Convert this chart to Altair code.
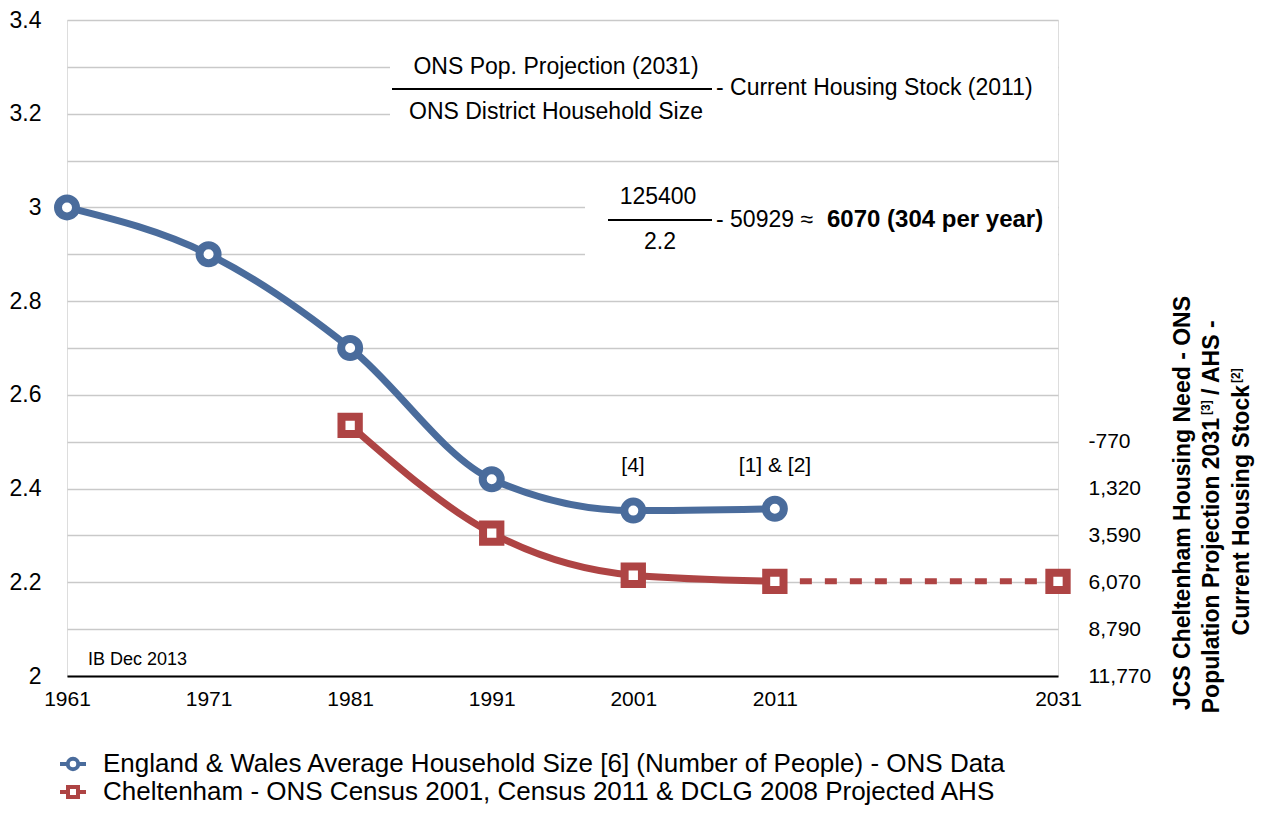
import altair as alt
import pandas as pd

# ---------------- data ----------------
years_ew = [1961, 1971, 1981, 1991, 2001, 2011]
ahs_ew = [3.0, 2.9, 2.7, 2.42, 2.353, 2.357]

years_ch = [1981, 1991, 2001, 2011, 2031]
ahs_ch = [2.535, 2.305, 2.215, 2.202, 2.202]

x_ticks = [1961, 1971, 1981, 1991, 2001, 2011, 2031]
y_grid = [2.0, 2.1, 2.2, 2.3, 2.4, 2.5, 2.6, 2.7, 2.8, 2.9, 3.0, 3.1, 3.2, 3.3, 3.4]
right_vals = [2.5, 2.4, 2.3, 2.2, 2.1, 2.0]
right_labels = ["-770", "1,320", "3,590", "6,070", "8,790", "11,770"]

series_names = [
    "England & Wales Average Household Size [6] (Number of People) - ONS Data",
    "Cheltenham - ONS Census 2001, Census 2011 & DCLG 2008 Projected AHS",
]

formula_num = "ONS Pop. Projection (2031)"
formula_den = "ONS District Household Size"
formula_rest = "- Current Housing Stock (2011)"
calc_num = "125400"
calc_den = "2.2"
calc_rest = "- 50929 ≈"
calc_bold = "6070 (304 per year)"
note_2001 = "[4]"
note_2011 = "[1] & [2]"
credit = "IB Dec 2013"
rtitle_1 = "JCS Cheltenham Housing Need - ONS"
rtitle_2a = "Population Projection 2031"
rtitle_2b = "/ AHS -"
rtitle_3 = "Current Housing Stock"
sup_3 = "[3]"
sup_2 = "[2]"

# ---------------- style ----------------
FONT = "Liberation Sans"
BLUE = "#4A6C9C"
RED = "#AE4444"
GRID = "#c9c9c9"
W, H = 991, 656

one = pd.DataFrame({"d": [0]})

X = alt.X(
    "year:Q",
    scale=alt.Scale(domain=[1961, 2031], nice=False, zero=False),
    axis=alt.Axis(values=x_ticks, format="d", title=None, ticks=False,
                  labelPadding=12, domainColor="black", domainWidth=2,
                  grid=False, labelFontSize=21, labelColor="black",
                  labelFont=FONT, labelFlush=False),
)
Y_SCALE = alt.Scale(domain=[2.0, 3.4], nice=False, zero=False)

left_axis = alt.Axis(
    orient="left", values=y_grid, format=".1~f",
    labelExpr="(round(datum.value*10) % 2 == 0) ? datum.label : ''",
    ticks=False, domain=False, grid=True, gridColor=GRID, gridWidth=1.5,
    labelPadding=26, labelFontSize=23, labelColor="black", labelFont=FONT,
    title=None,
)

expr = "''"
for v, lab in reversed(list(zip(right_vals, right_labels))):
    expr = f"(abs(datum.value - {v}) < 0.01 ? '{lab}' : {expr})"
right_axis = alt.Axis(
    orient="right", values=right_vals, labelExpr=expr, ticks=False,
    domain=False, grid=False, labelPadding=30, labelFontSize=21,
    labelAlign="left", labelColor="black", labelFont=FONT, title=None,
)

blue_df = pd.DataFrame({"year": years_ew, "ahs": ahs_ew})
red_df = pd.DataFrame({"year": years_ch, "ahs": ahs_ch})


def yenc(axis):
    if axis is None:
        return alt.Y("ahs:Q", scale=Y_SCALE, axis=None)
    return alt.Y("ahs:Q", scale=Y_SCALE, axis=axis)


def txt(text, x, y, size=23, align="center", weight="normal", angle=0, baseline="middle"):
    kw = dict(font=FONT, fontSize=size, align=align, baseline=baseline,
              fontWeight=weight, color="black")
    if angle:
        kw["angle"] = angle
    return alt.Chart(pd.DataFrame({"t": [text]})).mark_text(**kw).encode(
        text="t:N", x=alt.value(x), y=alt.value(y))


def rule(x1, x2, y, color="black", width=2):
    return alt.Chart(one).mark_rule(color=color, strokeWidth=width).encode(
        x=alt.value(x1), x2=alt.value(x2), y=alt.value(y))


def wbox(x1, x2, y1, y2):
    return alt.Chart(one).mark_rect(fill="white", stroke=None).encode(
        x=alt.value(x1), x2=alt.value(x2), y=alt.value(y1), y2=alt.value(y2))


layers = []
# white boxes behind the formula text (hide gridlines there)
layers.append(wbox(323, W, 30, 112))
layers.append(wbox(518, W, 165, 255))

# formulas
layers.append(txt(formula_num, 489, 47))
layers.append(rule(325, 645, 69))
layers.append(txt(formula_den, 489, 92))
layers.append(txt(formula_rest, 649, 68, align="left"))
layers.append(txt(calc_num, 591, 177))
layers.append(rule(541, 645, 200))
layers.append(txt(calc_den, 593, 222))
layers.append(txt(calc_rest, 649, 200, align="left"))
layers.append(txt(calc_bold, 760, 200, size=24, align="left", weight="bold"))
layers.append(txt(note_2001, 566, 446, size=21))
layers.append(txt(note_2011, 708, 446, size=21))
layers.append(txt(credit, 21, 640, size=18, align="left"))

# right title (rotated)
layers.append(txt(rtitle_1, 1116, 483, weight="bold", angle=270))
layers.append(txt(rtitle_2a, 1145, 398, weight="bold", angle=270, align="right"))
layers.append(txt(sup_3, 1139, 395, size=12, weight="bold", angle=270, align="left"))
layers.append(txt(rtitle_2b, 1145, 375, weight="bold", angle=270, align="left"))
layers.append(txt(rtitle_3, 1175, 365, weight="bold", angle=270, align="right"))
layers.append(txt(sup_2, 1169, 363, size=12, weight="bold", angle=270, align="left"))

# data lines
blue_line = alt.Chart(blue_df).mark_line(
    interpolate="monotone", color=BLUE, strokeWidth=7).encode(x=X, y=yenc(left_axis))
red_solid = alt.Chart(red_df).transform_filter("datum.year <= 2011").mark_line(
    interpolate="monotone", color=RED, strokeWidth=7).encode(x=X, y=yenc(right_axis))
red_dash = alt.Chart(red_df).transform_filter("datum.year >= 2011").mark_line(
    color=RED, strokeWidth=6, strokeDash=[12, 13]).encode(x=X, y=yenc(None))
blue_pts = alt.Chart(blue_df).mark_point(
    shape="circle", size=324, fill="white", stroke=BLUE, strokeWidth=8,
    opacity=1, fillOpacity=1).encode(x=X, y=yenc(None))
red_pts = alt.Chart(red_df).mark_point(
    shape="square", size=300, fill="white", stroke=RED, strokeWidth=8,
    opacity=1, fillOpacity=1).encode(x=X, y=yenc(None))
layers += [blue_line, red_solid, red_dash, blue_pts, red_pts]

# custom legend
for i, (name, col, shp, sz) in enumerate(zip(series_names, [BLUE, RED],
                                               ["circle", "square"], [110, 100])):
    ly = 744 + 28 * i
    layers.append(rule(-7, 19, ly, color=col, width=4))
    layers.append(alt.Chart(one).mark_point(
        shape=shp, size=sz, fill="white", stroke=col, strokeWidth=4,
        opacity=1, fillOpacity=1).encode(x=alt.value(6), y=alt.value(ly)))
    layers.append(txt(name, 36, ly, size=26, align="left"))

chart = alt.layer(*layers).resolve_axis(y="independent").properties(
    width=W, height=H,
    autosize=alt.AutoSizeParams(type="none"),
    padding={"left": 59, "top": 12, "right": 202, "bottom": 130},
).configure_view(stroke=None).configure(font=FONT)

chart.save("out.html", embed_options={"renderer": "svg", "actions": False})
